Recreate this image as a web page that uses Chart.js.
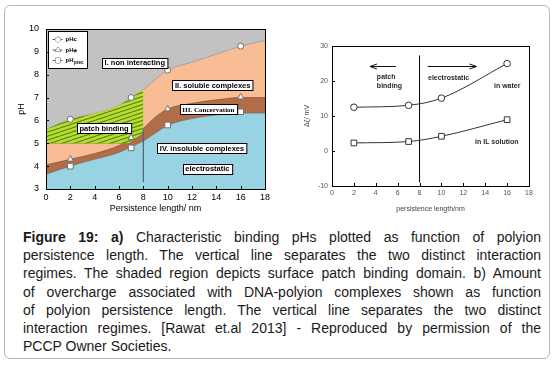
<!DOCTYPE html>
<html>
<head>
<meta charset="utf-8">
<script src="https://cdn.jsdelivr.net/npm/chart.js@4.4.0/dist/chart.umd.min.js"></script>
<style>
  html, body { margin: 0; padding: 0; background: #fff; width: 554px; height: 365px; overflow: hidden; }
  #frame { position: absolute; left: 4px; top: 5px; width: 544px; height: 352px; border: 1px solid #b8b8b8; border-radius: 6px; }
  #left { position: absolute; left: 0; top: 0; }
  #right { position: absolute; left: 280px; top: 0; }
  #caption { position: absolute; left: 23px; top: 228px; width: 518px; font: 14px Arial, "Liberation Sans", sans-serif; color: #1a1a1a; }
  #caption div { height: 18.2px; line-height: 18.2px; text-align: justify; text-align-last: justify; }
  #caption div.last { text-align-last: left; }
</style>
</head>
<body>
<div id="frame"></div>
<canvas id="left" width="280" height="218"></canvas>
<canvas id="right" width="270" height="218"></canvas>
<div id="caption">
  <div><b>Figure 19: a)</b> Characteristic binding pHs plotted as function of polyion</div>
  <div>persistence length. The vertical line separates the two distinct interaction</div>
  <div>regimes. The shaded region depicts surface patch binding domain. b) Amount</div>
  <div>of overcharge associated with DNA-polyion complexes shown as function</div>
  <div>of polyion persistence length. The vertical line separates the two distinct</div>
  <div>interaction regimes. [Rawat et.al 2013] - Reproduced by permission of the</div>
  <div class="last">PCCP Owner Societies.</div>
</div>
<script>
// ---- left chart (a): characteristic pH vs persistence length ----
const xTicksA = [0, 2, 4, 6, 8, 10, 12, 14, 16, 18];
const yTicksA = [3, 4, 5, 6, 7, 8, 9, 10];

// region boundaries
const boundX    = [0, 2, 4, 6, 7, 8, 9, 10, 12, 14, 16, 18];
const boundC    = [5.6, 6.05, 6.3, 6.65, 7.0, 7.35, 7.8, 8.2, 8.55, 8.9, 9.25, 9.5];
const boundStar = [4.05, 4.3, 4.55, 4.9, 5.2, 5.65, 6.15, 6.5, 6.75, 6.9, 7.0, 7.0];
const boundPrec = [3.65, 4.0, 4.3, 4.6, 4.85, 5.1, 5.45, 5.78, 6.08, 6.24, 6.32, 6.32];

// shaded patch-binding domain (lower edge)
const patchX   = [0, 6.8, 8];
const patchLow = [5.0, 5.0, 5.45];

// measured points
const ptX     = [2, 7, 10, 16];
const pHc     = [6.05, 7.0, 8.2, 9.25];
const pHstar  = [4.3, 5.25, 6.5, 7.02];
const pHprec  = [4.0, 4.8, 5.8, 6.38];

// regime separator
const splitX  = 8;
const splitYA = [3.3, 5.6];

// ---- right chart (b): overcharge vs persistence length ----
const xTicksB = [0, 2, 4, 6, 8, 10, 12, 14, 16, 18];
const yTicksB = [-10, 0, 10, 20, 30];
const water   = [12.5, 13.05, 15.1, 25.0];
const ilSol   = [2.3, 2.7, 4.2, 8.95];
const splitYB = [-9, 27.3];

const FONT = 'Arial, "Liberation Sans", sans-serif';
Chart.defaults.font.family = FONT;
Chart.defaults.animation = false;

const xy = (xs, ys) => xs.map((x, i) => ({ x, y: ys[i] }));

const leftCanvas = document.getElementById('left');
function hatch(ctx) {
  const c = document.createElement('canvas');
  c.width = 12; c.height = 4;
  const g = c.getContext('2d');
  g.fillStyle = '#bfdb36';
  g.fillRect(0, 0, 12, 4);
  g.strokeStyle = '#5b9514';
  g.lineWidth = 1.3;
  for (const dy of [-4, 0, 4]) {
    g.beginPath(); g.moveTo(0, 4 + dy); g.lineTo(12, dy); g.stroke();
  }
  return ctx.createPattern(c, 'repeat');
}

function insideTicks(ctx, chart, len) {
  const { left, right, top, bottom } = chart.chartArea;
  const xs = chart.scales.x, ys = chart.scales.y;
  ctx.save();
  ctx.strokeStyle = '#000';
  ctx.lineWidth = 1;
  ctx.beginPath();
  xs.ticks.forEach(t => {
    const px = Math.round(xs.getPixelForValue(t.value)) + 0.5;
    ctx.moveTo(px, bottom); ctx.lineTo(px, bottom - len);
  });
  ys.ticks.forEach(t => {
    const py = Math.round(ys.getPixelForValue(t.value)) + 0.5;
    ctx.moveTo(left, py); ctx.lineTo(left + len, py);
  });
  ctx.stroke();
  ctx.strokeRect(Math.round(left) + 0.5, Math.round(top) + 0.5, Math.round(right - left), Math.round(bottom - top));
  ctx.restore();
}

const grayBg = {
  id: 'grayBg',
  beforeDatasetsDraw(chart) {
    const { ctx, chartArea: a } = chart;
    ctx.save();
    ctx.fillStyle = '#c2c2c2';
    ctx.fillRect(a.left, a.top, a.right - a.left, a.bottom - a.top);
    ctx.restore();
  }
};

const boxLabels = [
  { text: 'I. non interacting', x: 7.3, y: 8.53, font: 'bold 7.5px ' + FONT },
  { text: 'II. soluble complexes', x: 13.7, y: 7.55, font: 'bold 7.5px ' + FONT },
  { text: 'III. Concervation', x: 13.35, y: 6.48, font: 'bold 7px "Liberation Serif", "Times New Roman", serif' },
  { text: 'patch binding', x: 4.77, y: 5.67, font: 'bold 7.5px ' + FONT },
  { text: 'IV. insoluble complexes', x: 12.82, y: 4.79, font: 'bold 7.5px ' + FONT },
  { text: 'electrostatic', x: 13.27, y: 3.88, font: 'bold 7.5px ' + FONT }
];

const leftDecor = {
  id: 'leftDecor',
  afterDatasetsDraw(chart) {
    const { ctx, chartArea: a } = chart;
    const xs = chart.scales.x, ys = chart.scales.y;
    ctx.save();
    boxLabels.forEach(b => {
      ctx.font = b.font;
      const w = ctx.measureText(b.text).width + 5;
      const h = 10;
      const cx = xs.getPixelForValue(b.x), cy = ys.getPixelForValue(b.y);
      const bx = Math.round(cx - w / 2) + 0.5, by = Math.round(cy - h / 2) + 0.5;
      ctx.fillStyle = '#fff';
      ctx.fillRect(bx, by, w, h);
      ctx.strokeStyle = '#000';
      ctx.lineWidth = 1;
      ctx.strokeRect(bx, by, w, h);
      ctx.fillStyle = '#000';
      ctx.textAlign = 'center';
      ctx.textBaseline = 'middle';
      ctx.fillText(b.text, cx, cy + 0.5);
    });

    // legend box
    const lx = Math.round(a.left) + 2.5, ly = Math.round(a.top) + 2.5;
    ctx.fillStyle = '#fff';
    ctx.fillRect(lx, ly, 39, 37);
    ctx.strokeStyle = '#000';
    ctx.strokeRect(lx, ly, 39, 37);
    const entries = [
      { style: 'circle', r: 2.6, main: 'pHc', sub: '' },
      { style: 'triangle', r: 3, main: 'pH', sub: '*' },
      { style: 'rect', r: 3.4, main: 'pH', sub: 'prec' }
    ];
    entries.forEach((e, i) => {
      const ey = ly + 8 + i * 10.5;
      ctx.strokeStyle = '#333';
      ctx.lineWidth = 0.8;
      ctx.beginPath(); ctx.moveTo(lx + 4, ey); ctx.lineTo(lx + 14, ey); ctx.stroke();
      ctx.fillStyle = '#fff';
      Chart.helpers.drawPoint(ctx, { pointStyle: e.style, radius: e.r, borderWidth: 0.8 }, lx + 9.5, ey);
      ctx.fill();
      ctx.fillStyle = '#000';
      ctx.textAlign = 'left';
      ctx.textBaseline = 'middle';
      ctx.font = 'bold 6px ' + FONT;
      ctx.fillText(e.main, lx + 17, ey);
      const mw = ctx.measureText(e.main).width;
      if (e.sub === '*') {
        ctx.font = 'bold 9px ' + FONT;
        ctx.fillText('*', lx + 17 + mw, ey + 3);
      } else if (e.sub) {
        ctx.font = 'bold 4.5px ' + FONT;
        ctx.fillText(e.sub, lx + 17 + mw + 0.5, ey + 2.5);
      }
    });
    ctx.restore();
  },
  afterDraw(chart) { insideTicks(chart.ctx, chart, 3); }
};

const leftCtx = leftCanvas.getContext('2d');
const markerStyle = (style, r) => ({
  showLine: false, pointStyle: style, pointRadius: r, pointBackgroundColor: '#fff',
  pointBorderColor: '#707070', pointBorderWidth: 1, order: 1
});

new Chart(leftCtx, {
  type: 'line',
  data: {
    datasets: [
      { data: xy(boundX, boundC), fill: 'start', backgroundColor: '#f9bd95', borderColor: '#8a8a8a', borderWidth: 0.6, pointRadius: 0, cubicInterpolationMode: 'monotone', order: 10 },
      { data: xy(boundX, boundStar), fill: 'start', backgroundColor: '#b06d48', borderColor: '#7a4a30', borderWidth: 0.6, pointRadius: 0, cubicInterpolationMode: 'monotone', order: 9 },
      { data: xy(boundX, boundPrec), fill: 'start', backgroundColor: '#98d3e4', borderColor: '#6a6a6a', borderWidth: 0.6, pointRadius: 0, cubicInterpolationMode: 'monotone', order: 8 },
      { data: xy(patchX, patchLow), fill: false, borderColor: '#6b7f1a', borderWidth: 0.6, pointRadius: 0, order: 7 },
      { data: xy(boundX.slice(0, 6), boundC.slice(0, 6)), fill: { target: 3 }, backgroundColor: hatch(leftCtx), borderWidth: 0, pointRadius: 0, cubicInterpolationMode: 'monotone', order: 6 },
      { data: splitYA.map(y => ({ x: splitX, y })), borderColor: '#4b6677', borderWidth: 1.2, pointRadius: 0, fill: false, order: 5 },
      { data: xy(ptX, pHc), ...markerStyle('circle', 3) },
      { data: xy(ptX, pHstar), ...markerStyle('triangle', 3.6) },
      { data: xy(ptX, pHprec), ...markerStyle('rect', 4) }
    ]
  },
  options: {
    responsive: false,
    layout: { padding: { top: 29, left: 0, right: 15, bottom: 0 } },
    plugins: { legend: { display: false }, tooltip: { enabled: false } },
    scales: {
      x: {
        type: 'linear', min: 0, max: 18,
        afterBuildTicks: s => { s.ticks = xTicksA.map(v => ({ value: v })); },
        afterFit: s => { s.height = 29; },
        grid: { display: false, drawTicks: false }, border: { display: false },
        ticks: { font: { size: 9 }, color: '#000', padding: 3, maxRotation: 0, autoSkip: false },
        title: { display: true, text: 'Persistence length/ nm', font: { size: 9 }, color: '#000', padding: { top: 0, bottom: 3.6 } }
      },
      y: {
        type: 'linear', min: 3, max: 10,
        afterBuildTicks: s => { s.ticks = yTicksA.map(v => ({ value: v })); },
        afterFit: s => { s.width = 46; },
        grid: { display: false, drawTicks: false }, border: { display: false },
        ticks: { font: { size: 9 }, color: '#000', padding: 7, autoSkip: false },
        title: { display: true, text: 'pH', font: { size: 9 }, color: '#000', padding: { top: 16.6, bottom: 0 } }
      }
    }
  },
  plugins: [grayBg, leftDecor]
});

// ---- right chart ----
const rightTexts = [
  { text: 'patch', x: 4.1, y: 21.1 },
  { text: 'binding', x: 4.1, y: 18.6 },
  { text: 'electrostatic', x: 8.77, y: 20.9 },
  { text: 'in water', x: 14.8, y: 18.6 },
  { text: 'in IL solution', x: 13.07, y: 2.57 }
];
const arrows = [
  { from: 5.85, to: 3.47, y: 24.3 },
  { from: 8.75, to: 13.2, y: 24.3 }
];

const rightDecor = {
  id: 'rightDecor',
  afterDatasetsDraw(chart) {
    const { ctx } = chart;
    const xs = chart.scales.x, ys = chart.scales.y;
    ctx.save();
    ctx.fillStyle = '#2a2a2a';
    ctx.font = 'bold 7px ' + FONT;
    ctx.textAlign = 'left';
    ctx.textBaseline = 'middle';
    rightTexts.forEach(t => ctx.fillText(t.text, xs.getPixelForValue(t.x), ys.getPixelForValue(t.y)));
    ctx.strokeStyle = '#111';
    ctx.lineWidth = 1;
    arrows.forEach(ar => {
      const x1 = xs.getPixelForValue(ar.from), x2 = xs.getPixelForValue(ar.to);
      const y = Math.round(ys.getPixelForValue(ar.y)) + 0.5;
      const d = x2 > x1 ? -1 : 1;
      ctx.beginPath();
      ctx.moveTo(x1, y); ctx.lineTo(x2, y);
      ctx.moveTo(x2 + d * 7, y - 2.5); ctx.lineTo(x2, y); ctx.lineTo(x2 + d * 7, y + 2.5);
      ctx.stroke();
    });
    ctx.restore();
  },
  afterDraw(chart) { insideTicks(chart.ctx, chart, 3); }
};

new Chart(document.getElementById('right'), {
  type: 'line',
  data: {
    datasets: [
      { data: xy(ptX, water), borderColor: '#333', borderWidth: 1, cubicInterpolationMode: 'monotone', pointStyle: 'circle', pointRadius: 3.3, pointBackgroundColor: '#fff', pointBorderColor: '#333', pointBorderWidth: 1, fill: false },
      { data: xy(ptX, ilSol), borderColor: '#333', borderWidth: 1, cubicInterpolationMode: 'monotone', pointStyle: 'rect', pointRadius: 4, pointBackgroundColor: '#fff', pointBorderColor: '#333', pointBorderWidth: 1, fill: false },
      { data: splitYB.map(y => ({ x: splitX, y })), borderColor: '#000', borderWidth: 1, pointRadius: 0, fill: false }
    ]
  },
  options: {
    responsive: false,
    layout: { padding: { top: 46, left: 0, right: 21, bottom: 0 } },
    plugins: { legend: { display: false }, tooltip: { enabled: false } },
    scales: {
      x: {
        type: 'linear', min: 0, max: 18,
        afterBuildTicks: s => { s.ticks = xTicksB.map(v => ({ value: v })); },
        afterFit: s => { s.height = 32; },
        grid: { display: false, drawTicks: false }, border: { display: false },
        ticks: { font: { size: 7 }, color: '#555', padding: 3, maxRotation: 0, autoSkip: false },
        title: { display: true, text: 'persistence length/nm', font: { size: 7 }, color: '#444', padding: { top: 0, bottom: 4.8 } }
      },
      y: {
        type: 'linear', min: -10, max: 30,
        afterBuildTicks: s => { s.ticks = yTicksB.map(v => ({ value: v })); },
        afterFit: s => { s.width = 52; },
        grid: { display: false, drawTicks: false }, border: { display: false },
        ticks: { font: { size: 7 }, color: '#555', padding: 4, autoSkip: false },
        title: { display: true, text: 'Δζ/ mV', font: { size: 7 }, color: '#444', padding: { top: 22.8, bottom: 0 } }
      }
    }
  },
  plugins: [rightDecor]
});
</script>
</body>
</html>
